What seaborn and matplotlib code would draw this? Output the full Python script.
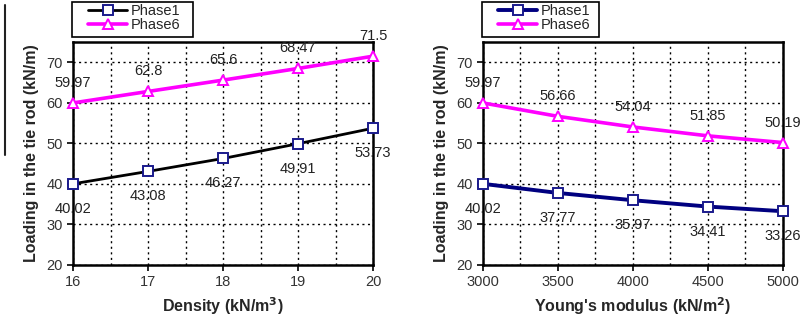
import matplotlib
matplotlib.use("Agg")
import matplotlib.pyplot as plt
import seaborn as sns
import pandas as pd
from matplotlib.lines import Line2D
from matplotlib.patches import Rectangle

density = [16, 17, 18, 19, 20]
density_phase1 = [40.02, 43.08, 46.27, 49.91, 53.73]
density_phase6 = [59.97, 62.8, 65.6, 68.47, 71.5]

modulus = [3000, 3500, 4000, 4500, 5000]
modulus_phase1 = [40.02, 37.77, 35.97, 34.41, 33.26]
modulus_phase6 = [59.97, 56.66, 54.04, 51.85, 50.19]

series_names = ["Phase1", "Phase6"]

sns.set_style("white")
plt.rcParams['font.family'] = ['Liberation Sans', 'DejaVu Sans']

fig = plt.figure(figsize=(8.03, 3.29), dpi=100)
W, H = 803, 329

def make_ax(left):
    return fig.add_axes([left / W, (H - 265) / H, 300 / W, 223 / H])

def draw(ax, x, p1, p6, p1color, p1lw, xlabel, xticks, xminor, xlim, boxw):
    df1 = pd.DataFrame({"x": x, "y": p1})
    df6 = pd.DataFrame({"x": x, "y": p6})
    sns.lineplot(data=df1, x="x", y="y", ax=ax, color=p1color, lw=p1lw,
                 marker="s", markersize=6.5, markerfacecolor="white",
                 markeredgecolor="#1a1a8c", markeredgewidth=1.4,
                 label=series_names[0], zorder=3)
    sns.lineplot(data=df6, x="x", y="y", ax=ax, color="#ff00ff", lw=2.6,
                 marker="^", markersize=7, markerfacecolor="white",
                 markeredgecolor="#ff00ff", markeredgewidth=1.4,
                 label=series_names[1], zorder=3)
    for ln in ax.lines:
        ln.set_clip_on(False)
    for xi, v in zip(x, p1):
        ax.annotate(f"{v:g}", (xi, v), xytext=(0, -25), textcoords="offset pixels",
                    ha="center", va="center", fontsize=10.5, color="#222222",
                    annotation_clip=False)
    for xi, v in zip(x, p6):
        ax.annotate(f"{v:g}", (xi, v), xytext=(0, 20), textcoords="offset pixels",
                    ha="center", va="center", fontsize=10.5, color="#222222",
                    annotation_clip=False)
    ax.set_xlim(*xlim)
    ax.set_ylim(20, 75)
    ax.set_xticks(xticks)
    ax.set_xticks(xminor, minor=True)
    ax.set_yticks([20, 30, 40, 50, 60, 70])
    ax.grid(True, which="both", axis="x", color="black", linestyle=(0, (1.5, 2.5)), lw=1)
    ax.grid(True, which="major", axis="y", color="black", linestyle=(0, (1.5, 2.5)), lw=1)
    ax.tick_params(axis="both", which="major", direction="out", length=4, width=1.2,
                   labelsize=10.5, colors="black", labelcolor="#333333",
                   left=True, bottom=True)
    ax.tick_params(axis="x", which="minor", length=0)
    for s in ax.spines.values():
        s.set_linewidth(1.8)
        s.set_color("black")
    ax.set_xlabel(xlabel, fontsize=11.5, fontweight="bold", labelpad=4)
    ax.set_ylabel("Loading in the tie rod (kN/m)", fontsize=11.5, fontweight="bold", labelpad=5)
    ax.legend(loc="upper left", bbox_to_anchor=(0.05, 1.172), borderaxespad=0,
              frameon=False, fontsize=10.5, handlelength=2.7,
              labelspacing=0.05, borderpad=0, handletextpad=0.2)
    ax.add_patch(Rectangle((-0.003, 1.022), boxw, 0.157, transform=ax.transAxes,
                           fill=False, edgecolor="black", lw=1.2, clip_on=False))

ax1 = make_ax(73)
draw(ax1, density, density_phase1, density_phase6, "black", 2.0,
     "Density (kN/m$^{\\mathbf{3}}$)", [16, 17, 18, 19, 20],
     [16.5, 17.5, 18.5, 19.5], (16, 20), 0.403)

ax2 = make_ax(483)
draw(ax2, modulus, modulus_phase1, modulus_phase6, "#000080", 2.8,
     "Young's modulus (kN/m$^{\\mathbf{2}}$)", [3000, 3500, 4000, 4500, 5000],
     [3250, 3750, 4250, 4750], (3000, 5000), 0.39)

fig.add_artist(Line2D([5 / W, 5 / W], [1 - 5 / H, 1 - 155 / H], color="#222222", lw=1.5))

fig.savefig("out.png", dpi=100)
